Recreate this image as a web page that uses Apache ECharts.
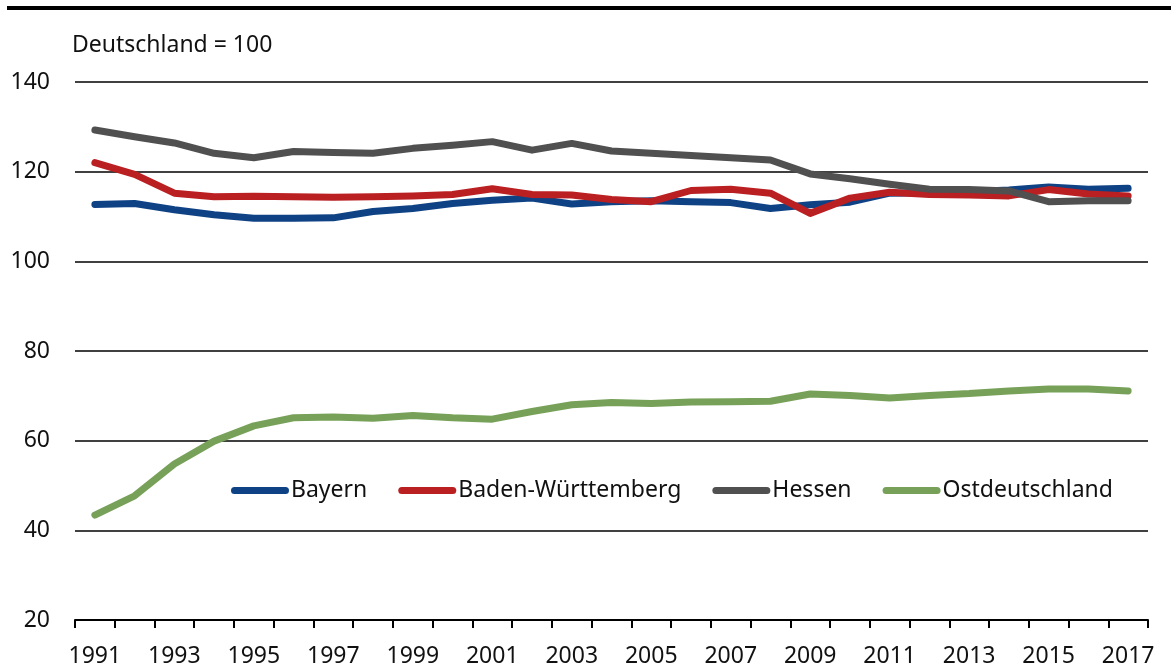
<!DOCTYPE html>
<html>
<head>
<meta charset="utf-8">
<script src="https://cdn.jsdelivr.net/npm/echarts@6/dist/echarts.min.js"></script>
<style>html,body{margin:0;padding:0;background:#fff}#c{width:1171px;height:668px}</style>
</head>
<body>
<div id="c"></div>
<script>
const years = ['1991','1992','1993','1994','1995','1996','1997','1998','1999','2000','2001','2002','2003','2004','2005','2006','2007','2008','2009','2010','2011','2012','2013','2014','2015','2016','2017'];
const bayern = [112.7,112.9,111.5,110.4,109.6,109.6,109.7,111.1,111.8,112.9,113.6,114.1,112.8,113.3,113.5,113.3,113.1,111.8,112.6,113.2,115.2,115.3,115.5,115.9,116.6,116.1,116.3];
const badenWuerttemberg = [122.0,119.4,115.2,114.4,114.5,114.4,114.3,114.4,114.6,114.9,116.2,114.9,114.8,113.8,113.3,115.8,116.1,115.2,110.7,114.1,115.4,114.9,114.8,114.6,116.0,115.0,114.6];
const hessen = [129.3,127.8,126.4,124.1,123.1,124.5,124.3,124.1,125.2,125.9,126.7,124.8,126.3,124.6,124.1,123.6,123.1,122.6,119.5,118.4,117.2,116.1,116.0,115.7,113.3,113.5,113.5];
const ostdeutschland = [43.4,47.7,54.8,59.9,63.3,65.1,65.3,65.0,65.6,65.1,64.8,66.5,68.0,68.5,68.3,68.6,68.7,68.8,70.4,70.1,69.5,70.1,70.5,71.1,71.5,71.5,71.1];
const yTicks = {min: 20, max: 140, interval: 20};

const FONT = 'Noto Sans';
const FS = 23;
const chart = echarts.init(document.getElementById('c'), null, {renderer: 'canvas'});
const lineSeries = (name, data, color) => ({
  name, type: 'line', data, symbol: 'none', smooth: false,
  lineStyle: {width: 7, color, cap: 'round', join: 'round'},
  itemStyle: {color}, emphasis: {disabled: true}, animation: false
});
const capsule = 'path://M3.5,0 H54.5 A3.5,3.5 0 0 1 54.5,7 H3.5 A3.5,3.5 0 0 1 3.5,0 Z';
chart.setOption({
  animation: false,
  textStyle: {fontFamily: FONT},
  grid: {left: 75, right: 23, top: 82, bottom: 48, containLabel: false},
  graphic: [
    {type: 'rect', shape: {x: 7, y: 6, width: 1164, height: 4}, style: {fill: '#000'}},
    {type: 'text', left: 72, top: 34, style: {text: 'Deutschland = 100', fontSize: FS, fontFamily: FONT, fill: '#111'}}
  ],
  legend: {
    left: 226, top: 474, itemWidth: 58, itemHeight: 7, itemGap: 31,
    icon: capsule,
    textStyle: {fontSize: FS, color: '#111', fontFamily: FONT, padding: [0, 0, 0, -3]},
    data: ['Bayern', 'Baden-Württemberg', 'Hessen', 'Ostdeutschland']
  },
  xAxis: {
    type: 'category', data: years, boundaryGap: true,
    axisLine: {lineStyle: {color: '#000', width: 2}},
    axisTick: {show: true, interval: 0, length: 8, lineStyle: {color: '#000', width: 2}},
    axisLabel: {interval: 1, color: '#111', fontSize: FS, margin: 25, fontFamily: FONT}
  },
  yAxis: {
    type: 'value', min: yTicks.min, max: yTicks.max, interval: yTicks.interval,
    axisLine: {show: false}, axisTick: {show: false},
    splitLine: {lineStyle: {color: '#000', width: 1.5}},
    axisLabel: {color: '#111', fontSize: FS, margin: 25, fontFamily: FONT}
  },
  series: [
    lineSeries('Bayern', bayern, '#0f4285'),
    lineSeries('Baden-Württemberg', badenWuerttemberg, '#ba1f22'),
    lineSeries('Hessen', hessen, '#505050'),
    lineSeries('Ostdeutschland', ostdeutschland, '#77a158')
  ]
});
</script>
</body>
</html>
